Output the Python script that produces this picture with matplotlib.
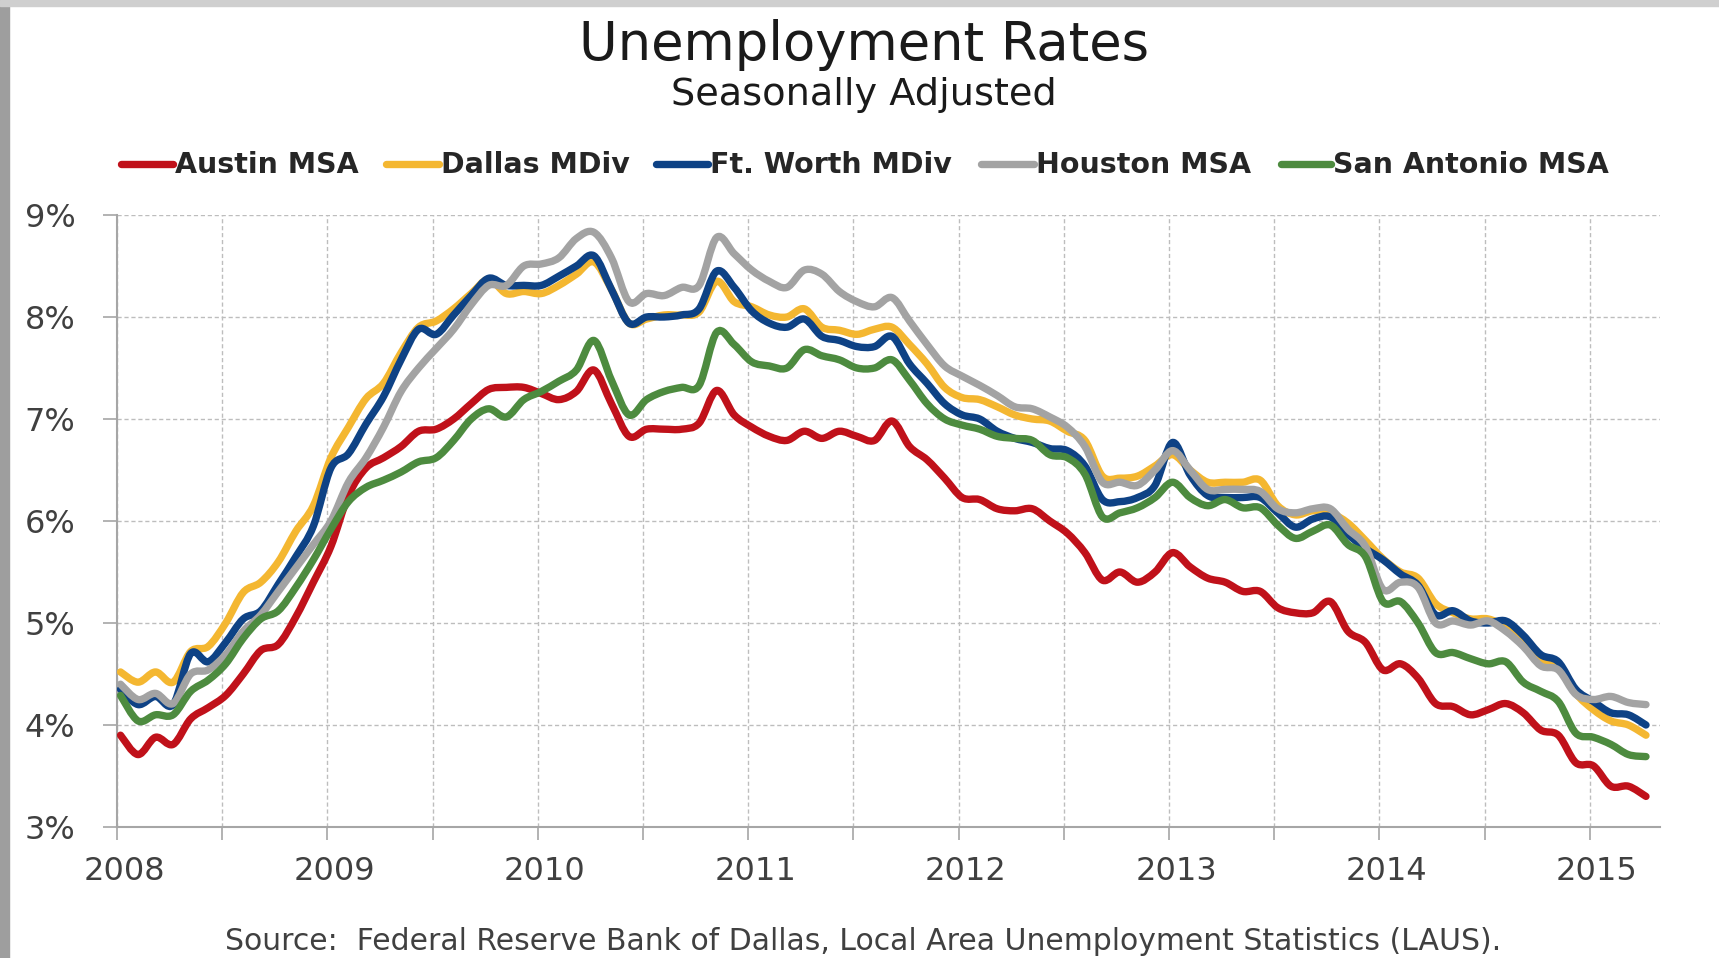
import numpy as np
import matplotlib.pyplot as plt
from matplotlib.lines import Line2D
from matplotlib.patches import Rectangle, PathPatch
from matplotlib.path import Path

# Monthly unemployment rates (%), Jan 2008 through Apr 2015
austin = [
    3.90, 3.71, 3.88, 3.81, 4.06, 4.17, 4.29, 4.50, 4.73, 4.79, 5.06, 5.40, 5.75, 6.25, 6.52, 6.62,
    6.73, 6.88, 6.90, 7.00, 7.15, 7.29, 7.31, 7.31, 7.25, 7.19, 7.27, 7.48, 7.15, 6.83, 6.90,
    6.90, 6.90, 6.96, 7.28, 7.04, 6.92, 6.83, 6.79, 6.88, 6.81, 6.88, 6.83, 6.79, 6.98, 6.73, 6.60,
    6.42, 6.23, 6.21, 6.12, 6.10, 6.12, 6.00, 5.88, 5.69, 5.42, 5.50, 5.40, 5.50, 5.69, 5.55,
    5.44, 5.40, 5.31, 5.31, 5.15, 5.10, 5.10, 5.21, 4.92, 4.81, 4.54, 4.60, 4.46, 4.21, 4.18, 4.10,
    4.15, 4.21, 4.12, 3.95, 3.90, 3.63, 3.60, 3.40, 3.40, 3.30,
]
dallas = [
    4.52, 4.42, 4.52, 4.42, 4.72, 4.77, 5.00, 5.30, 5.40, 5.60, 5.90, 6.15, 6.62, 6.92, 7.20, 7.35,
    7.65, 7.90, 7.96, 8.08, 8.23, 8.37, 8.23, 8.25, 8.23, 8.31, 8.42, 8.54, 8.27, 7.94, 7.98,
    8.02, 8.02, 8.05, 8.35, 8.15, 8.10, 8.02, 8.00, 8.08, 7.90, 7.87, 7.83, 7.88, 7.90, 7.73, 7.54,
    7.31, 7.21, 7.19, 7.12, 7.04, 7.00, 6.98, 6.88, 6.79, 6.44, 6.42, 6.44, 6.54, 6.65, 6.50,
    6.38, 6.38, 6.38, 6.40, 6.15, 6.06, 6.10, 6.08, 5.98, 5.81, 5.63, 5.50, 5.44, 5.19, 5.10, 5.04,
    5.04, 4.96, 4.80, 4.65, 4.58, 4.31, 4.15, 4.04, 4.00, 3.90,
]
ft_worth = [
    4.35, 4.20, 4.28, 4.20, 4.70, 4.62, 4.81, 5.04, 5.12, 5.38, 5.65, 5.95, 6.52, 6.66, 6.95, 7.22,
    7.58, 7.88, 7.83, 8.02, 8.21, 8.38, 8.31, 8.31, 8.31, 8.40, 8.50, 8.60, 8.27, 7.94, 8.00,
    8.00, 8.02, 8.08, 8.45, 8.29, 8.06, 7.94, 7.90, 7.98, 7.81, 7.77, 7.71, 7.71, 7.81, 7.54, 7.35,
    7.15, 7.04, 7.00, 6.88, 6.81, 6.77, 6.71, 6.69, 6.54, 6.21, 6.19, 6.23, 6.35, 6.77, 6.45,
    6.25, 6.23, 6.23, 6.23, 6.08, 5.94, 6.02, 6.04, 5.87, 5.73, 5.62, 5.48, 5.37, 5.08, 5.12, 5.02,
    5.00, 5.02, 4.88, 4.69, 4.62, 4.35, 4.23, 4.12, 4.10, 4.00,
]
houston = [
    4.40, 4.25, 4.31, 4.21, 4.50, 4.54, 4.69, 4.92, 5.08, 5.31, 5.54, 5.77, 6.00, 6.38, 6.62, 6.92,
    7.27, 7.50, 7.69, 7.88, 8.12, 8.31, 8.31, 8.50, 8.52, 8.58, 8.77, 8.83, 8.58, 8.15, 8.23,
    8.21, 8.29, 8.31, 8.78, 8.62, 8.46, 8.35, 8.29, 8.46, 8.42, 8.25, 8.15, 8.10, 8.19, 7.96, 7.73,
    7.52, 7.42, 7.33, 7.23, 7.12, 7.10, 7.02, 6.92, 6.73, 6.38, 6.38, 6.35, 6.50, 6.69, 6.50,
    6.31, 6.31, 6.31, 6.29, 6.12, 6.08, 6.12, 6.12, 5.92, 5.75, 5.33, 5.40, 5.35, 5.00, 5.02, 4.98,
    5.02, 4.92, 4.77, 4.58, 4.54, 4.30, 4.25, 4.28, 4.22, 4.20,
]
san_antonio = [
    4.29, 4.04, 4.10, 4.10, 4.33, 4.44, 4.60, 4.85, 5.04, 5.12, 5.35, 5.62, 5.92, 6.19, 6.33, 6.40,
    6.48, 6.58, 6.62, 6.79, 7.00, 7.10, 7.02, 7.19, 7.27, 7.37, 7.48, 7.77, 7.38, 7.04, 7.19,
    7.27, 7.31, 7.33, 7.85, 7.73, 7.56, 7.52, 7.50, 7.68, 7.62, 7.58, 7.50, 7.50, 7.58, 7.38, 7.15,
    7.00, 6.94, 6.90, 6.83, 6.81, 6.79, 6.65, 6.62, 6.46, 6.04, 6.08, 6.13, 6.23, 6.38, 6.23,
    6.15, 6.21, 6.13, 6.13, 5.96, 5.83, 5.90, 5.96, 5.77, 5.65, 5.21, 5.21, 5.00, 4.71, 4.71, 4.65,
    4.60, 4.62, 4.42, 4.33, 4.23, 3.92, 3.88, 3.81, 3.71, 3.69,
]

series_names = ['Austin MSA', 'Dallas MDiv', 'Ft. Worth MDiv', 'Houston MSA', 'San Antonio MSA']
series_values = [austin, dallas, ft_worth, houston, san_antonio]
series_colors = ['#C0111A', '#F4B731', '#0E4285', '#A3A3A3', '#4D8B3F']
year_labels = ['2008', '2009', '2010', '2011', '2012', '2013', '2014', '2015']
pct_ticks = [3, 4, 5, 6, 7, 8, 9]

LW = 5.3


def smooth_path(x, y):
    # Catmull-Rom style bezier through every point, like a spreadsheet "smoothed line"
    pts = np.column_stack([x, y]).astype(float)
    ext = np.vstack([pts[0], pts, pts[-1]])
    verts = [pts[0]]
    codes = [Path.MOVETO]
    for i in range(len(pts) - 1):
        p0, p1, p2, p3 = ext[i], ext[i + 1], ext[i + 2], ext[i + 3]
        verts += [p1 + (p2 - p0) / 6, p2 - (p3 - p1) / 6, p2]
        codes += [Path.CURVE4] * 3
    return Path(verts, codes)


plt.rcParams['font.family'] = ['DejaVu Sans']

W, H = 1719, 958
fig = plt.figure(figsize=(W / 100, H / 100), dpi=100)
fig.patch.set_facecolor('white')

# thin grey frame along the left and top edges
fig.patches.append(Rectangle((0, 0), 9 / W, 1, transform=fig.transFigure,
                             color='#9E9E9E', zorder=0))
fig.patches.append(Rectangle((0, 1 - 6 / H), 1, 6 / H, transform=fig.transFigure,
                             color='#CFCFCF', zorder=0))

ax = fig.add_axes([117 / W, 1 - 827 / H, (1660 - 117) / W, (827 - 215) / H])

months = np.arange(len(austin))
for z, (vals, c) in enumerate(zip(series_values, series_colors)):
    patch = PathPatch(smooth_path(months, vals), facecolor='none', edgecolor=c, lw=LW,
                      joinstyle='round', capstyle='round', zorder=3 + z)
    ax.add_patch(patch)

ax.set_xlim(-0.2, 87.8)
ax.set_ylim(3, 9)

# half-year gridlines, year labels near the start of each year
ax.set_xticks(np.arange(-0.2, 87.8, 6))
ax.set_xticklabels([])
ax.set_xticks(np.arange(len(year_labels)) * 12 + 0.2, minor=True)
ax.set_xticklabels(year_labels, minor=True)
ax.tick_params(axis='x', which='major', length=9, width=1.2, color='#A6A6A6', direction='out')
ax.tick_params(axis='x', which='minor', length=0, pad=21, labelsize=23, labelcolor='#404040')

ax.set_yticks(pct_ticks)
ax.set_yticklabels([f'{p}%' for p in pct_ticks])
ax.tick_params(axis='y', length=10, width=1.2, color='#A6A6A6', pad=20,
               labelsize=23, labelcolor='#404040')

ax.grid(True, which='major', color='#BDBDBD', linestyle=(0, (3, 2)), linewidth=1.0)
ax.set_axisbelow(True)
for side in ['top', 'right']:
    ax.spines[side].set_visible(False)
for side in ['left', 'bottom']:
    ax.spines[side].set_color('#A6A6A6')
    ax.spines[side].set_linewidth(1.5)

# titles
fig.text(864 / W, 1 - 60 / H, 'Unemployment Rates', ha='center', va='baseline',
         fontsize=38, color='#1A1A1A')
fig.text(864 / W, 1 - 105 / H, 'Seasonally Adjusted', ha='center', va='baseline',
         fontsize=27.5, color='#1A1A1A')

# legend row drawn by hand: line start, line end, text start (pixels)
legend_pos = [(121, 173, 175), (386, 439, 441), (656, 708, 710), (981, 1034, 1036), (1281, 1331, 1333)]
leg_y = 1 - 164 / H
for name, c, (x0, x1, tx) in zip(series_names, series_colors, legend_pos):
    fig.add_artist(Line2D([x0 / W, x1 / W], [leg_y, leg_y], transform=fig.transFigure,
                          color=c, lw=LW, solid_capstyle='round'))
    fig.text(tx / W, 1 - 173 / H, name, ha='left', va='baseline', fontsize=20.5,
             fontweight='bold', color='#262626')

fig.text(863 / W, 1 - 950 / H,
         'Source:  Federal Reserve Bank of Dallas, Local Area Unemployment Statistics (LAUS).',
         ha='center', va='baseline', fontsize=21.5, color='#404040')

fig.savefig('out.png', dpi=100)
